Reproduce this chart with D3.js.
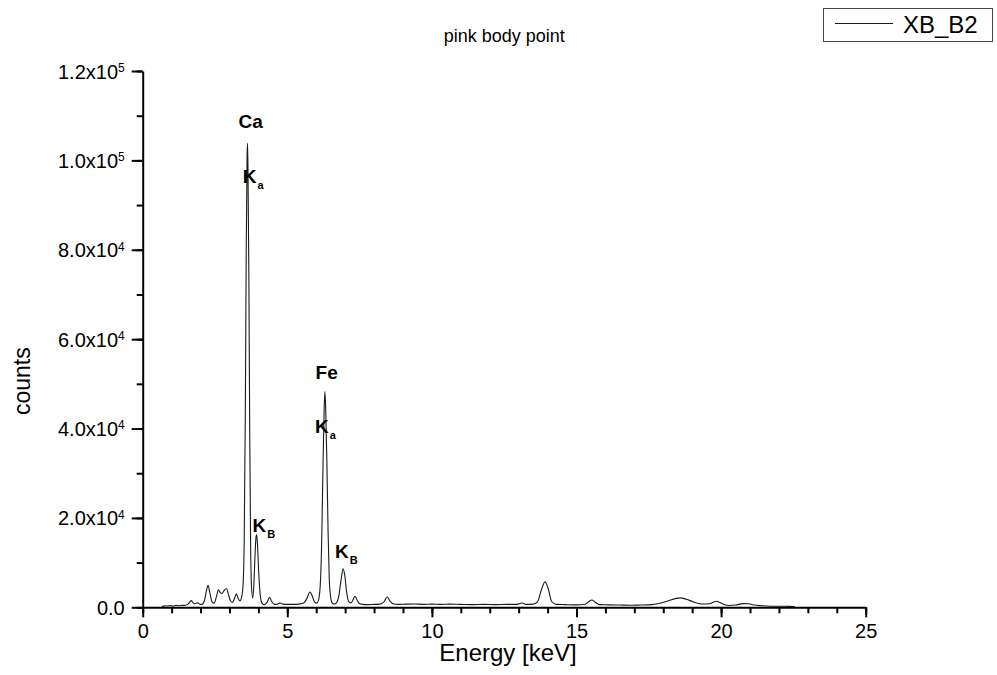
<!DOCTYPE html>
<html>
<head>
<meta charset="utf-8">
<script src="https://cdn.jsdelivr.net/npm/d3@7"></script>
<style>
  body { margin: 0; background: #fff; }
  svg { font-family: "Liberation Sans", Arial, sans-serif; }
</style>
</head>
<body>
<div id="chart"></div>
<script>
// spectrum (keV, counts)
const energy = [
  0.66, 0.75, 0.85, 0.95, 1.05, 1.15, 1.25, 1.35, 1.45, 1.55, 1.62, 1.68, 1.74, 1.80, 1.86, 1.91, 1.97,
  2.05, 2.13, 2.20, 2.26, 2.32, 2.40, 2.47, 2.55, 2.62, 2.68, 2.74, 2.82, 2.90, 2.96,
  3.03, 3.10, 3.17, 3.24, 3.30, 3.36, 3.42, 3.47, 3.51, 3.55, 3.58, 3.61, 3.625, 3.64, 3.67, 3.70, 3.73, 3.76,
  3.80, 3.84, 3.88, 3.92, 3.94, 3.97, 4.01, 4.06, 4.12, 4.20, 4.30, 4.39, 4.46, 4.55, 4.65, 4.76, 4.85,
  5.0, 5.2, 5.4, 5.55, 5.68, 5.78, 5.86, 5.94, 6.02, 6.08, 6.14, 6.19, 6.23, 6.27, 6.30, 6.33, 6.37,
  6.41, 6.45, 6.50, 6.56, 6.62, 6.70, 6.78, 6.86, 6.93, 6.99, 7.05, 7.12, 7.20, 7.28, 7.34, 7.40, 7.48,
  7.60, 7.80, 8.00, 8.20, 8.35, 8.45, 8.55, 8.68, 8.85, 9.1, 9.4, 9.7, 10.0, 10.3, 10.6, 11.0, 11.4,
  11.8, 12.2, 12.6, 12.9, 13.05, 13.12, 13.25, 13.5, 13.65, 13.78, 13.91, 14.02, 14.14, 14.3, 14.6,
  15.0, 15.3, 15.43, 15.53, 15.64, 15.8, 16.1, 16.5, 16.9, 17.2, 17.6, 17.9, 18.2, 18.45, 18.6, 18.8,
  19.05, 19.35, 19.6, 19.75, 19.85, 19.95, 20.1, 20.25, 20.5, 20.75, 20.95, 21.15, 21.4, 21.7, 22.0,
  22.3, 22.55
];
const counts = [
  200, 320, 280, 380, 300, 420, 350, 450, 420, 650, 1100, 1500, 1000, 800, 950, 1000, 700,
  650, 1400, 3600, 4900, 3300, 1200, 900, 2400, 3900, 3300, 3100, 3800, 4200, 3000,
  1500, 1100, 1900, 3000, 2000, 1400, 2200, 5000, 15000, 45000, 80000, 101000, 103800, 98000, 75000, 40000, 15000, 5000,
  2100, 4500, 11000, 15800, 16300, 14000, 8000, 3000, 1000, 600, 1100, 2250, 1300, 650, 700, 960, 700,
  650, 650, 700, 900, 2000, 3440, 2600, 1200, 900, 1600, 5000, 15000, 30000, 43000, 48250, 44000, 32000,
  17000, 6500, 2200, 900, 740, 1000, 2500, 6200, 8600, 7000, 3500, 1300, 1000, 1800, 2470, 1800, 900,
  650, 600, 650, 700, 1300, 2300, 1400, 750, 650, 700, 750, 650, 700, 650, 700, 650, 600,
  650, 600, 650, 650, 850, 950, 650, 700, 1200, 3800, 5700, 4200, 1300, 650, 600,
  550, 700, 1300, 1640, 1200, 600, 550, 500, 450, 500, 600, 900, 1500, 2000, 2100, 1800,
  1200, 750, 800, 1200, 1350, 1100, 650, 400, 500, 830, 800, 500, 350, 250, 250,
  200, 150
];

const xTicks = [0, 5, 10, 15, 20, 25];
const yTicks = [0, 20000, 40000, 60000, 80000, 100000, 120000];
const yTickMantissa = ["0.0", "2.0", "4.0", "6.0", "8.0", "1.0", "1.2"];
const yTickExponent = ["", "4", "4", "4", "4", "5", "5"];

// element labels above the peaks
const elemNames = ["Ca", "Fe"];
const elemEnergy = [3.73, 6.36];
const elemCounts = [107300, 51000];

// line labels (K + subscript)
const lineSub = ["a", "a", "B", "B"];
const lineEnergy = [3.46, 5.96, 3.80, 6.65];
const lineCounts = [94900, 38900, 16900, 10960];

const title = "pink body point";
const seriesName = "XB_B2";

const W = 997, H = 675;
const margin = { top: 71, right: 131.3, bottom: 67.7, left: 142.7 };
const width = W - margin.left - margin.right;
const height = H - margin.top - margin.bottom;

const svg = d3.select("#chart")
  .append("svg")
  .attr("width", W)
  .attr("height", H);

const g = svg.append("g")
  .attr("transform", `translate(${margin.left},${margin.top})`);

const x = d3.scaleLinear().domain([0, 25]).range([0, width]);
const y = d3.scaleLinear().domain([0, 120000]).range([height, 0]);

// minor ticks
g.append("g")
  .attr("transform", `translate(0,${height})`)
  .call(d3.axisBottom(x).tickValues(d3.range(0, 26, 1)).tickSize(6).tickSizeOuter(0).tickFormat(""))
  .call(a => a.select(".domain").remove())
  .selectAll("line").attr("stroke", "#000").attr("stroke-width", 2);

g.append("g")
  .call(d3.axisLeft(y).tickValues(d3.range(0, 120001, 10000)).tickSize(6).tickSizeOuter(0).tickFormat(""))
  .call(a => a.select(".domain").remove())
  .selectAll("line").attr("stroke", "#000").attr("stroke-width", 2);

// X axis
const xAxisG = g.append("g")
  .attr("transform", `translate(0,${height})`)
  .call(d3.axisBottom(x).tickValues(xTicks).tickSize(10).tickSizeOuter(0).tickPadding(7));
xAxisG.select(".domain").attr("stroke-width", 2);
xAxisG.selectAll(".tick line").attr("stroke-width", 2);
xAxisG.selectAll("text")
  .attr("fill", "#000")
  .style("font-size", "20px")
  .style("font-family", "'Liberation Sans', Arial, sans-serif");

// Y axis
const yAxisG = g.append("g")
  .call(d3.axisLeft(y).tickValues(yTicks).tickSize(11).tickSizeOuter(0).tickPadding(7).tickFormat(""));
yAxisG.select(".domain").attr("stroke-width", 2);
yAxisG.selectAll(".tick line").attr("stroke-width", 2);
yAxisG.selectAll(".tick text")
  .attr("fill", "#000")
  .attr("dy", "0.35em")
  .style("font-size", "20px")
  .style("font-family", "'Liberation Sans', Arial, sans-serif")
  .each(function (d, i) {
    const t = d3.select(this);
    t.append("tspan").text(yTickMantissa[i] + (yTickExponent[i] ? "x10" : ""));
    if (yTickExponent[i]) {
      t.append("tspan")
        .attr("dy", "-0.55em")
        .style("font-size", "12px")
        .text(yTickExponent[i]);
    }
  });

// spectrum line
const line = d3.line()
  .x((d, i) => x(energy[i]))
  .y((d, i) => y(counts[i]))
  .curve(d3.curveMonotoneX);

g.append("path")
  .datum(energy)
  .attr("fill", "none")
  .attr("stroke", "#1a1a1a")
  .attr("stroke-width", 1.1)
  .attr("d", line);

// peak annotations
g.selectAll(".elem")
  .data(elemNames)
  .enter()
  .append("text")
  .attr("class", "elem")
  .attr("x", (d, i) => x(elemEnergy[i]))
  .attr("y", (d, i) => y(elemCounts[i]))
  .attr("text-anchor", "middle")
  .style("font-size", "19px")
  .style("font-weight", "bold")
  .text(d => d);

const kl = g.selectAll(".kline")
  .data(lineSub)
  .enter()
  .append("text")
  .attr("class", "kline")
  .attr("x", (d, i) => x(lineEnergy[i]))
  .attr("y", (d, i) => y(lineCounts[i]))
  .style("font-size", "19px")
  .style("font-weight", "bold");
kl.append("tspan").text("K");
kl.append("tspan")
  .attr("dy", "6")
  .attr("dx", "1")
  .style("font-size", "11px")
  .text(d => d);

// title
svg.append("text")
  .attr("x", margin.left + width / 2)
  .attr("y", 42)
  .attr("text-anchor", "middle")
  .style("font-size", "18px")
  .text(title);

// axis titles
svg.append("text")
  .attr("x", 508)
  .attr("y", 661)
  .attr("text-anchor", "middle")
  .style("font-size", "24px")
  .text("Energy [keV]");

svg.append("text")
  .attr("transform", `translate(30,${margin.top + height / 2 + 42}) rotate(-90)`)
  .attr("text-anchor", "middle")
  .style("font-size", "23px")
  .text("counts");

// legend
const leg = svg.append("g");
leg.append("rect")
  .attr("x", 823.5).attr("y", 8.5)
  .attr("width", 169).attr("height", 33)
  .attr("fill", "#fff")
  .attr("stroke", "#444")
  .attr("stroke-width", 1);
leg.append("line")
  .attr("x1", 835).attr("x2", 893)
  .attr("y1", 23.5).attr("y2", 23.5)
  .attr("stroke", "#1a1a1a")
  .attr("stroke-width", 1.1);
leg.append("text")
  .attr("x", 903)
  .attr("y", 33)
  .style("font-size", "24px")
  .text(seriesName);
</script>
</body>
</html>
